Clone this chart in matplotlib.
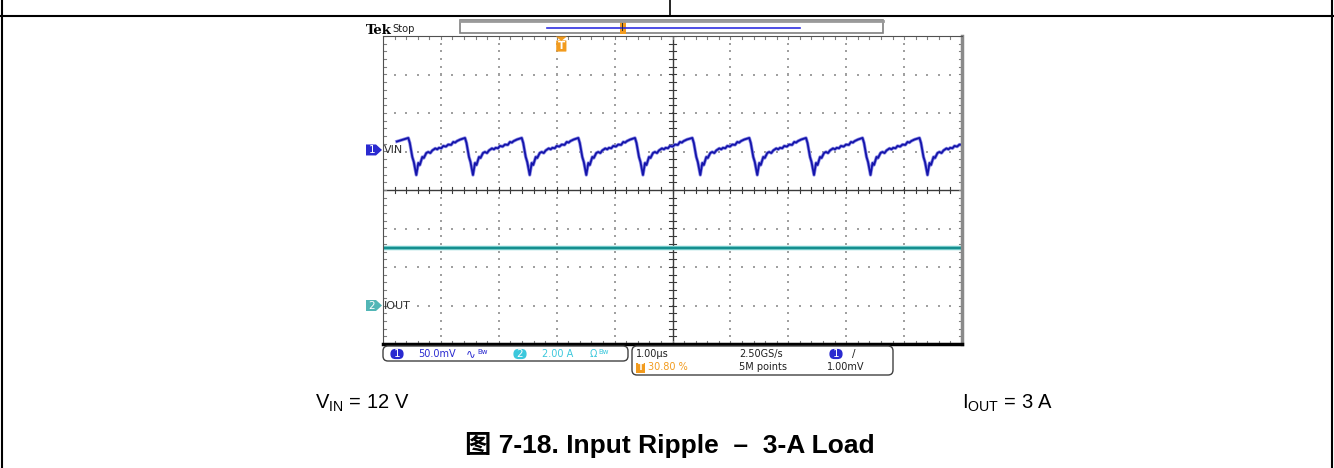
import numpy as np
import matplotlib
matplotlib.use("Agg")
import matplotlib.pyplot as plt
from matplotlib.patches import Polygon, FancyBboxPatch, Rectangle

plt.rcParams['font.family'] = ['Liberation Sans', 'Noto Sans CJK SC', 'DejaVu Sans']
plt.rcParams['mathtext.fontset'] = 'custom'
plt.rcParams['mathtext.rm'] = 'Liberation Sans'

# ---- scope settings ----
time_per_div = 1.00      # us/div
vin_scale = 50.0         # mV/div
vin_pos = 1.04           # div, channel 1 ground marker
iout_scale = 2.00        # A/div
iout_pos = -3.0          # div, channel 2 ground marker
trigger_pct = 30.80

# ---- VIN ripple (mV around marker), one switching cycle ----
peak_t = [0.437, 1.416, 2.396, 3.373, 4.352, 5.342, 6.326, 7.306, 8.282, 9.266]  # us
cycle_dt = [0, 0.026, 0.069, 0.095, 0.138, 0.173, 0.199, 0.242, 0.268, 0.311,
            0.345, 0.38, 0.415, 0.466, 0.5, 0.53, 0.57, 0.604, 0.65, 0.69,
            0.74, 0.777, 0.81, 0.84, 0.898]
cycle_mv = [15.6, 9.1, -9.1, -15.6, -32.5, -16.9, -19.5, -9.1, -10.4, -3.9,
            -2.6, -4.0, -0.6, 2.0, 0.8, 2.8, 2.2, 5.2, 4.4, 7.0,
            6.6, 10.4, 9.6, 11.5, 13.6]
start_t = [0.24]
start_mv = [11.0]

# ---- IOUT (A) ----
iout_t = [0.0, 10.0]
iout_a = [3.0, 3.0]

W, H = 1334, 468
fig = plt.figure(figsize=(W / 100, H / 100), dpi=100)
fig.patch.set_facecolor('white')

# graticule box in pixels
gx0, gx1, gy0, gy1 = 383, 962, 36, 344
sc = fig.add_axes([gx0 / W, 1 - gy1 / H, (gx1 - gx0) / W, (gy1 - gy0) / H])
sc.set_xlim(0, 10)
sc.set_ylim(-4, 4)
sc.set_xticks([])
sc.set_yticks([])
sc.spines['left'].set_color('#505050')
sc.spines['top'].set_color('#505050')
sc.spines['right'].set_color('#8a8a8a')
sc.spines['right'].set_linewidth(2.5)
sc.spines['bottom'].set_color('black')
sc.spines['bottom'].set_linewidth(2.5)

# dotted grid
minor_x = np.arange(0, 10.001, 0.2)
minor_y = np.arange(-4, 4.001, 0.2)
for gx in [1, 2, 3, 4, 6, 7, 8, 9]:
    sc.scatter(np.full_like(minor_y, gx), minor_y, s=1.0, marker='s', color='#a0a0a0', lw=0)
for gy in [-3, -2, -1, 1, 2, 3]:
    sc.scatter(minor_x, np.full_like(minor_x, gy), s=1.0, marker='s', color='#a0a0a0', lw=0)
sc.axvline(5, color='#3a3a3a', lw=1)
sc.axhline(0, color='#3a3a3a', lw=1)
for x in minor_x:
    sc.plot([x, x], [-0.07, 0.07], color='#3a3a3a', lw=0.8)
    sc.plot([x, x], [4, 3.93], color='#808080', lw=0.8)
    sc.plot([x, x], [-4, -3.93], color='#808080', lw=0.8)
for y in minor_y:
    sc.plot([4.94, 5.06], [y, y], color='#3a3a3a', lw=0.8)
    sc.plot([0, 0.06], [y, y], color='#808080', lw=0.8)
    sc.plot([9.94, 10], [y, y], color='#808080', lw=0.8)

# build VIN trace
vt = list(start_t)
vm = list(start_mv)
for p in peak_t:
    vt += [p + d for d in cycle_dt]
    vm += cycle_mv
vt = np.array(vt) / time_per_div
vy = vin_pos + np.array(vm) / vin_scale
sc.plot(vt, vy, color='#8c8ce6', lw=2.4, solid_joinstyle='round')
sc.plot(vt, vy, color='#1414aa', lw=1.3, solid_joinstyle='round')

it = np.array(iout_t) / time_per_div
iy = iout_pos + np.array(iout_a) / iout_scale
sc.plot(it, iy, color='#7cd0d0', lw=3.2)
sc.plot(it, iy, color='#168e8e', lw=1.6)

# ---- overlay in pixel coordinates ----
ov = fig.add_axes([0, 0, 1, 1], zorder=5)
ov.set_xlim(0, W)
ov.set_ylim(H, 0)
ov.axis('off')
ov.patch.set_visible(False)

# document frame
ov.plot([0, W], [16, 16], color='black', lw=1.5)
ov.plot([670, 670], [0, 16], color='black', lw=1.2)
ov.plot([2, 2], [0, H], color='black', lw=1.5)
ov.plot([W - 2, W - 2], [0, H], color='black', lw=1.5)

mono = 'DejaVu Sans'
orange = '#f29b1d'
blue = '#2a2ad0'
cyan = '#3cc8dc'

# Tek Stop and record bar
ov.text(366, 33.5, 'Tek', family='DejaVu Serif', fontweight='bold', fontsize=9.5, va='baseline')
ov.text(392, 32.5, 'Stop', family=mono, fontsize=7.2, va='baseline', color='#202020')
ov.add_patch(Rectangle((460, 20), 423, 13, facecolor='white', edgecolor='#808080', lw=1.2))
ov.plot([460, 883], [20.5, 20.5], color='#9a9a9a', lw=2)
ov.plot([547, 800], [28, 28], color='#3030e0', lw=1.2)
ov.add_patch(Rectangle((620, 21), 6, 13, facecolor=orange, edgecolor='none'))
ov.text(623, 28, 'I', family=mono, fontsize=7.5, ha='center', va='center', color='#303030')

# trigger position marker
tx = gx0 + trigger_pct / 100 * (gx1 - gx0)
ov.add_patch(Polygon([[tx - 5.5, 36.5], [tx + 5.5, 36.5], [tx, 41]], closed=True, facecolor=orange, edgecolor='none'))
ov.add_patch(FancyBboxPatch((tx - 4.5, 41), 9, 10, boxstyle='round,pad=0.6', facecolor=orange, edgecolor='none'))
ov.text(tx, 46.3, 'T', family=mono, fontsize=7.5, ha='center', va='center', color='white', fontweight='bold')

# channel ground markers
def ch_marker(y, num, face, label):
    ov.add_patch(Polygon([[366, y - 5.5], [376, y - 5.5], [382, y], [376, y + 5.5], [366, y + 5.5]],
                         closed=True, facecolor=face, edgecolor='none'))
    ov.text(372, y + 0.5, num, family=mono, fontsize=7.5, ha='center', va='center', color='white')
    ov.text(384, y + 0.5, label, family=mono, fontsize=8, ha='left', va='center', color='#303030')

ch_marker(190 - vin_pos * 38.5, '1', blue, 'VIN')
ch_marker(190 - iout_pos * 38.5, '2', '#52b6b6', 'IOUT')

# readout boxes
ov.add_patch(FancyBboxPatch((383, 346), 245, 15, boxstyle='round,pad=0,rounding_size=5',
                            facecolor='white', edgecolor='#404040', lw=1))
ov.add_patch(FancyBboxPatch((632, 346), 261, 29, boxstyle='round,pad=0,rounding_size=5',
                            facecolor='white', edgecolor='#404040', lw=1))

def oval(x, y, num, face):
    ov.add_patch(FancyBboxPatch((x - 5, y - 3.5), 10, 7, boxstyle='round,pad=1.6,rounding_size=5',
                                facecolor=face, edgecolor='none'))
    ov.text(x, y + 0.3, num, family=mono, fontsize=7.5, ha='center', va='center', color='white')

r1 = 354
oval(397, r1, '1', blue)
ov.text(418, r1, '%.1fmV' % vin_scale, family=mono, fontsize=7, va='center', color=blue)
ov.text(466, r1, '∿', family=mono, fontsize=8.5, va='center', color=blue)
ov.text(477, r1 - 1.5, 'Bw', family=mono, fontsize=5, va='center', color=blue)
oval(520, r1, '2', cyan)
ov.text(542, r1, '%.2f A' % iout_scale, family=mono, fontsize=7, va='center', color=cyan)
ov.text(590, r1, 'Ω', family=mono, fontsize=7, va='center', color=cyan)
ov.text(598, r1 - 1.5, 'Bw', family=mono, fontsize=5, va='center', color=cyan)

ov.text(636, r1, '%.2fµs' % time_per_div, family=mono, fontsize=7, va='center', color='#202020')
ov.text(739, r1, '2.50GS/s', family=mono, fontsize=7, va='center', color='#202020')
oval(836, r1, '1', blue)
ov.text(852, r1, '/', family=mono, fontsize=7.5, va='center', color='#202020')
r2 = 367.5
ov.add_patch(Rectangle((636, r2 - 5), 9, 10, facecolor=orange, edgecolor='none'))
ov.text(640.5, r2 + 0.3, 'T', family=mono, fontsize=6, ha='center', va='center', color='white', fontweight='bold')
ov.text(648, r2, '%.2f %%' % trigger_pct, family=mono, fontsize=7, va='center', color=orange)
ov.text(739, r2, '5M points', family=mono, fontsize=7, va='center', color='#202020')
ov.text(827, r2, '1.00mV', family=mono, fontsize=7, va='center', color='#202020')

# document text
ov.text(315, 409, r'V$_{\rm IN}$ = 12 V', fontsize=14.5, va='baseline', ha='left')
ov.text(962, 409, r'I$_{\rm OUT}$ = 3 A', fontsize=14.5, va='baseline', ha='left')
ov.text(670, 453, '图 7-18. Input Ripple  –  3-A Load', fontsize=19, fontweight='bold',
        ha='center', va='baseline')

fig.savefig('out.png', dpi=100)
